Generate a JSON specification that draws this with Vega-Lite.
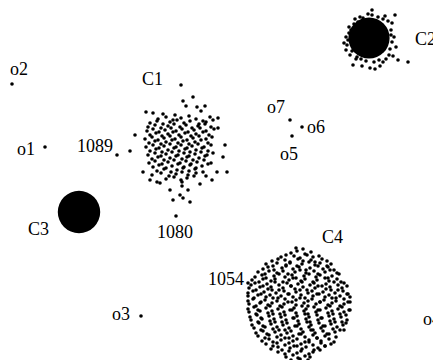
{
"$schema": "https://vega.github.io/schema/vega-lite/v6.json",
"width": 433, "height": 360, "padding": 0, "autosize": "none",
"background": "white",
"config": {"view": {"stroke": null}},
"datasets": {
"cores": [{"cluster":"C2","x":369,"y":38},{"cluster":"C3","x":79,"y":212}],
"labels": [
{"t":"o2","x":10,"y":75},{"t":"C1","x":142,"y":85},{"t":"o1","x":17,"y":155},{"t":"1089","x":77,"y":152},
{"t":"o7","x":267,"y":113},{"t":"o6","x":307,"y":133},{"t":"o5","x":280,"y":160},{"t":"C2","x":415,"y":45},
{"t":"C3","x":28,"y":235},{"t":"1080","x":157,"y":238},{"t":"C4","x":322,"y":243},{"t":"1054","x":208,"y":285},
{"t":"o3","x":112,"y":320},{"t":"o4","x":423,"y":325}],
"points": [
{"x":45,"y":147},{"x":12,"y":84},{"x":141,"y":316},{"x":292,"y":136},{"x":302,"y":127},{"x":290,"y":120},{"x":181,"y":85},{"x":117,"y":155},{"x":130,"y":151},{"x":176,"y":216},{"x":248,"y":283},
{"x":395,"y":15},{"x":372,"y":10},{"x":368,"y":14},{"x":360,"y":17},{"x":346,"y":37},{"x":344,"y":43},{"x":346,"y":50},{"x":350,"y":55},{"x":353,"y":65},{"x":362,"y":66},{"x":370,"y":68},{"x":375,"y":69},{"x":380,"y":66},{"x":393,"y":56},{"x":398,"y":60},{"x":408,"y":62},{"x":392,"y":23},{"x":394,"y":37},{"x":396,"y":47},{"x":355,"y":19},{"x":383,"y":62},{"x":385,"y":16},{"x":378,"y":17},{"x":349,"y":27},{"x":347,"y":45},{"x":356,"y":59},{"x":366,"y":61},{"x":374,"y":62},{"x":389,"y":55},{"x":391,"y":30},{"x":388,"y":21},{"x":354,"y":24},{"x":349,"y":33},{"x":357,"y":57},{"x":386,"y":59},{"x":392,"y":42},{"x":348,"y":40},{"x":352,"y":51},{"x":361,"y":59},{"x":379,"y":60},{"x":390,"y":49},{"x":391,"y":35},{"x":383,"y":19},{"x":363,"y":18},{"x":351,"y":30},{"x":372,"y":15},{"x":358,"y":22},
{"x":193,"y":97},{"x":183,"y":101},{"x":186,"y":106},{"x":197,"y":107},{"x":201,"y":111},{"x":205,"y":106},{"x":146,"y":112},{"x":153,"y":113},{"x":163,"y":114},{"x":175,"y":115},{"x":218,"y":118},{"x":218,"y":128},{"x":135,"y":135},{"x":225,"y":145},{"x":223,"y":157},{"x":227,"y":172},{"x":217,"y":172},{"x":143,"y":172},{"x":150,"y":180},{"x":160,"y":183},{"x":212,"y":180},{"x":200,"y":184},{"x":157,"y":182},{"x":182,"y":182},{"x":182,"y":186},{"x":173,"y":200},{"x":180,"y":195},{"x":183,"y":198},{"x":190,"y":202},{"x":170,"y":190},{"x":188,"y":190},
{"x":158,"y":119},{"x":166,"y":117},{"x":173,"y":120},{"x":181,"y":118},{"x":189,"y":116},{"x":196,"y":119},{"x":203,"y":121},{"x":210,"y":117},
{"x":150,"y":123},{"x":157,"y":121},{"x":163,"y":124},{"x":170,"y":122},{"x":177,"y":120},{"x":184,"y":123},{"x":190,"y":121},{"x":199,"y":124},{"x":206,"y":122},{"x":213,"y":120},
{"x":148,"y":127},{"x":155,"y":125},{"x":161,"y":128},{"x":168,"y":126},{"x":174,"y":124},{"x":180,"y":127},{"x":186,"y":125},{"x":192,"y":128},{"x":198,"y":126},{"x":205,"y":124},{"x":211,"y":127},
{"x":147,"y":131},{"x":153,"y":129},{"x":159,"y":132},{"x":165,"y":130},{"x":171,"y":128},{"x":176,"y":131},{"x":182,"y":129},{"x":188,"y":132},{"x":194,"y":130},{"x":200,"y":128},{"x":206,"y":131},{"x":214,"y":129},
{"x":150,"y":135},{"x":156,"y":133},{"x":162,"y":136},{"x":168,"y":134},{"x":173,"y":132},{"x":179,"y":135},{"x":185,"y":133},{"x":191,"y":136},{"x":196,"y":134},{"x":203,"y":132},{"x":209,"y":135},
{"x":145,"y":139},{"x":152,"y":137},{"x":158,"y":140},{"x":164,"y":138},{"x":170,"y":136},{"x":175,"y":139},{"x":181,"y":137},{"x":187,"y":140},{"x":193,"y":138},{"x":199,"y":136},{"x":206,"y":139},{"x":212,"y":137},
{"x":149,"y":143},{"x":155,"y":141},{"x":161,"y":144},{"x":166,"y":142},{"x":172,"y":140},{"x":178,"y":143},{"x":183,"y":141},{"x":189,"y":144},{"x":195,"y":142},{"x":201,"y":140},{"x":208,"y":143},
{"x":146,"y":147},{"x":153,"y":145},{"x":159,"y":148},{"x":164,"y":146},{"x":170,"y":144},{"x":176,"y":147},{"x":181,"y":145},{"x":187,"y":148},{"x":192,"y":146},{"x":198,"y":144},{"x":204,"y":147},{"x":211,"y":145},
{"x":150,"y":151},{"x":156,"y":149},{"x":162,"y":152},{"x":168,"y":150},{"x":174,"y":148},{"x":179,"y":151},{"x":185,"y":149},{"x":190,"y":152},{"x":196,"y":150},{"x":202,"y":148},{"x":208,"y":151},
{"x":148,"y":155},{"x":155,"y":153},{"x":161,"y":156},{"x":166,"y":154},{"x":172,"y":152},{"x":178,"y":155},{"x":184,"y":153},{"x":189,"y":156},{"x":195,"y":154},{"x":201,"y":152},{"x":207,"y":155},{"x":213,"y":153},
{"x":152,"y":159},{"x":158,"y":157},{"x":164,"y":160},{"x":170,"y":158},{"x":176,"y":156},{"x":182,"y":159},{"x":187,"y":157},{"x":193,"y":160},{"x":199,"y":158},{"x":205,"y":156},
{"x":149,"y":163},{"x":155,"y":161},{"x":162,"y":164},{"x":168,"y":162},{"x":174,"y":160},{"x":180,"y":163},{"x":186,"y":161},{"x":191,"y":164},{"x":197,"y":162},{"x":204,"y":160},{"x":211,"y":163},
{"x":153,"y":167},{"x":159,"y":165},{"x":166,"y":168},{"x":172,"y":166},{"x":178,"y":164},{"x":184,"y":167},{"x":190,"y":165},{"x":196,"y":168},{"x":202,"y":166},{"x":208,"y":164},
{"x":157,"y":171},{"x":164,"y":169},{"x":171,"y":172},{"x":177,"y":170},{"x":183,"y":168},{"x":189,"y":171},{"x":195,"y":169},{"x":203,"y":172},
{"x":152,"y":175},{"x":161,"y":173},{"x":169,"y":176},{"x":176,"y":174},{"x":182,"y":172},{"x":188,"y":175},{"x":196,"y":173},{"x":206,"y":176},
{"x":166,"y":179},{"x":174,"y":177},{"x":181,"y":180},{"x":187,"y":178},{"x":194,"y":176},
{"x":296,"y":248},{"x":303,"y":249},
{"x":291,"y":253},{"x":297,"y":251},{"x":305,"y":254},{"x":311,"y":252},
{"x":281,"y":257},{"x":286,"y":255},{"x":294,"y":256},{"x":300,"y":258},{"x":307,"y":255},{"x":313,"y":257},{"x":319,"y":256},
{"x":272,"y":261},{"x":278,"y":259},{"x":285,"y":260},{"x":290,"y":262},{"x":298,"y":259},{"x":303,"y":261},{"x":311,"y":260},{"x":315,"y":262},{"x":322,"y":259},{"x":327,"y":261},
{"x":266,"y":264},{"x":273,"y":266},{"x":277,"y":263},{"x":286,"y":265},{"x":290,"y":263},{"x":297,"y":266},{"x":302,"y":264},{"x":309,"y":262},{"x":315,"y":265},{"x":320,"y":263},{"x":327,"y":266},{"x":331,"y":264},
{"x":263,"y":269},{"x":268,"y":267},{"x":274,"y":270},{"x":282,"y":268},{"x":286,"y":266},{"x":293,"y":269},{"x":299,"y":267},{"x":306,"y":270},{"x":310,"y":268},{"x":318,"y":266},{"x":323,"y":269},{"x":328,"y":267},{"x":334,"y":270},
{"x":258,"y":272},{"x":265,"y":274},{"x":269,"y":271},{"x":277,"y":273},{"x":283,"y":271},{"x":288,"y":274},{"x":295,"y":272},{"x":300,"y":270},{"x":306,"y":273},{"x":314,"y":271},{"x":318,"y":274},{"x":325,"y":272},{"x":330,"y":270},{"x":337,"y":273},
{"x":255,"y":277},{"x":262,"y":275},{"x":266,"y":278},{"x":274,"y":276},{"x":279,"y":274},{"x":285,"y":277},{"x":292,"y":275},{"x":296,"y":278},{"x":304,"y":276},{"x":309,"y":274},{"x":316,"y":277},{"x":320,"y":275},{"x":328,"y":278},{"x":332,"y":276},{"x":339,"y":274},
{"x":252,"y":280},{"x":259,"y":282},{"x":263,"y":279},{"x":271,"y":281},{"x":275,"y":279},{"x":283,"y":282},{"x":289,"y":280},{"x":293,"y":278},{"x":301,"y":281},{"x":305,"y":279},{"x":313,"y":282},{"x":317,"y":280},{"x":325,"y":278},{"x":329,"y":281},{"x":337,"y":279},{"x":341,"y":282},
{"x":251,"y":285},{"x":255,"y":283},{"x":263,"y":286},{"x":267,"y":284},{"x":275,"y":282},{"x":279,"y":285},{"x":287,"y":283},{"x":291,"y":286},{"x":298,"y":284},{"x":302,"y":282},{"x":310,"y":285},{"x":314,"y":283},{"x":322,"y":286},{"x":326,"y":284},{"x":334,"y":282},{"x":338,"y":285},{"x":344,"y":283},
{"x":249,"y":288},{"x":256,"y":290},{"x":260,"y":287},{"x":268,"y":289},{"x":271,"y":287},{"x":279,"y":290},{"x":283,"y":288},{"x":291,"y":286},{"x":295,"y":289},{"x":303,"y":287},{"x":307,"y":290},{"x":315,"y":288},{"x":318,"y":286},{"x":326,"y":289},{"x":330,"y":287},{"x":338,"y":290},{"x":342,"y":288},{"x":347,"y":286},
{"x":248,"y":293},{"x":253,"y":291},{"x":261,"y":294},{"x":264,"y":292},{"x":272,"y":290},{"x":276,"y":293},{"x":284,"y":291},{"x":288,"y":294},{"x":296,"y":292},{"x":300,"y":290},{"x":308,"y":293},{"x":312,"y":291},{"x":319,"y":294},{"x":323,"y":292},{"x":331,"y":290},{"x":335,"y":293},{"x":343,"y":291},{"x":347,"y":294},
{"x":248,"y":296},{"x":254,"y":298},{"x":258,"y":295},{"x":266,"y":297},{"x":270,"y":295},{"x":278,"y":298},{"x":281,"y":296},{"x":289,"y":294},{"x":293,"y":297},{"x":301,"y":295},{"x":305,"y":298},{"x":313,"y":296},{"x":317,"y":294},{"x":325,"y":297},{"x":329,"y":295},{"x":336,"y":298},{"x":340,"y":296},{"x":348,"y":294},{"x":350,"y":297},
{"x":248,"y":301},{"x":253,"y":299},{"x":261,"y":302},{"x":265,"y":300},{"x":273,"y":298},{"x":277,"y":301},{"x":285,"y":299},{"x":288,"y":302},{"x":296,"y":300},{"x":300,"y":298},{"x":308,"y":301},{"x":312,"y":299},{"x":320,"y":302},{"x":324,"y":300},{"x":332,"y":298},{"x":336,"y":301},{"x":344,"y":299},{"x":348,"y":302},
{"x":249,"y":304},{"x":256,"y":306},{"x":260,"y":303},{"x":268,"y":305},{"x":272,"y":303},{"x":280,"y":306},{"x":284,"y":304},{"x":292,"y":302},{"x":296,"y":305},{"x":304,"y":303},{"x":308,"y":306},{"x":316,"y":304},{"x":320,"y":302},{"x":328,"y":305},{"x":332,"y":303},{"x":340,"y":306},{"x":344,"y":304},{"x":350,"y":302},
{"x":248,"y":309},{"x":254,"y":307},{"x":258,"y":310},{"x":266,"y":308},{"x":270,"y":306},{"x":278,"y":309},{"x":282,"y":307},{"x":290,"y":310},{"x":294,"y":308},{"x":302,"y":306},{"x":306,"y":309},{"x":314,"y":307},{"x":318,"y":310},{"x":326,"y":308},{"x":330,"y":306},{"x":338,"y":309},{"x":342,"y":307},{"x":349,"y":310},
{"x":249,"y":312},{"x":256,"y":314},{"x":260,"y":311},{"x":268,"y":313},{"x":272,"y":311},{"x":280,"y":314},{"x":284,"y":312},{"x":292,"y":310},{"x":296,"y":313},{"x":304,"y":311},{"x":308,"y":314},{"x":316,"y":312},{"x":320,"y":310},{"x":328,"y":313},{"x":332,"y":311},{"x":340,"y":314},{"x":344,"y":312},{"x":350,"y":310},
{"x":250,"y":317},{"x":257,"y":315},{"x":261,"y":318},{"x":269,"y":316},{"x":273,"y":314},{"x":281,"y":317},{"x":285,"y":315},{"x":293,"y":318},{"x":297,"y":316},{"x":305,"y":314},{"x":309,"y":317},{"x":317,"y":315},{"x":321,"y":318},{"x":329,"y":316},{"x":333,"y":314},{"x":341,"y":317},{"x":346,"y":315},
{"x":251,"y":320},{"x":258,"y":322},{"x":262,"y":319},{"x":270,"y":321},{"x":274,"y":319},{"x":282,"y":322},{"x":286,"y":320},{"x":294,"y":318},{"x":298,"y":321},{"x":306,"y":319},{"x":310,"y":322},{"x":318,"y":320},{"x":322,"y":318},{"x":330,"y":321},{"x":334,"y":319},{"x":342,"y":322},{"x":347,"y":320},
{"x":252,"y":325},{"x":259,"y":323},{"x":263,"y":326},{"x":271,"y":324},{"x":275,"y":322},{"x":283,"y":325},{"x":287,"y":323},{"x":295,"y":326},{"x":299,"y":324},{"x":307,"y":322},{"x":311,"y":325},{"x":319,"y":323},{"x":323,"y":326},{"x":331,"y":324},{"x":335,"y":322},{"x":343,"y":325},{"x":346,"y":323},
{"x":254,"y":328},{"x":261,"y":330},{"x":265,"y":327},{"x":273,"y":329},{"x":277,"y":327},{"x":285,"y":330},{"x":289,"y":328},{"x":297,"y":326},{"x":301,"y":329},{"x":309,"y":327},{"x":313,"y":330},{"x":321,"y":328},{"x":325,"y":326},{"x":333,"y":329},{"x":337,"y":327},{"x":344,"y":330},
{"x":256,"y":333},{"x":263,"y":331},{"x":267,"y":334},{"x":275,"y":332},{"x":279,"y":330},{"x":287,"y":333},{"x":291,"y":331},{"x":299,"y":334},{"x":303,"y":332},{"x":311,"y":330},{"x":315,"y":333},{"x":323,"y":331},{"x":327,"y":334},{"x":335,"y":332},{"x":340,"y":330},
{"x":258,"y":336},{"x":265,"y":338},{"x":269,"y":335},{"x":277,"y":337},{"x":281,"y":335},{"x":289,"y":338},{"x":293,"y":336},{"x":301,"y":334},{"x":305,"y":337},{"x":313,"y":335},{"x":317,"y":338},{"x":325,"y":336},{"x":329,"y":334},{"x":336,"y":337},
{"x":262,"y":341},{"x":269,"y":339},{"x":273,"y":342},{"x":281,"y":340},{"x":285,"y":338},{"x":293,"y":341},{"x":297,"y":339},{"x":305,"y":342},{"x":309,"y":340},{"x":317,"y":338},{"x":321,"y":341},{"x":329,"y":339},{"x":334,"y":342},
{"x":266,"y":344},{"x":273,"y":346},{"x":277,"y":343},{"x":285,"y":345},{"x":289,"y":343},{"x":297,"y":346},{"x":301,"y":344},{"x":309,"y":342},{"x":313,"y":345},{"x":321,"y":343},{"x":325,"y":346},{"x":331,"y":344},
{"x":271,"y":349},{"x":278,"y":347},{"x":282,"y":350},{"x":290,"y":348},{"x":294,"y":346},{"x":302,"y":349},{"x":306,"y":347},{"x":314,"y":350},{"x":318,"y":348},{"x":325,"y":346},
{"x":278,"y":352},{"x":285,"y":354},{"x":289,"y":351},{"x":297,"y":353},{"x":301,"y":351},{"x":309,"y":354},{"x":313,"y":352},{"x":320,"y":350},
{"x":286,"y":357},{"x":293,"y":355},{"x":298,"y":358},{"x":305,"y":356},{"x":310,"y":357},
{"x":291,"y":360},{"x":300,"y":359},{"x":308,"y":360}
]
},
"layer": [
{"data": {"name": "cores"}, "transform": [{"filter": "datum.cluster === 'C2'"}], "mark": {"type": "circle", "size": 1700, "opacity": 1, "color": "black"},
 "encoding": {
  "x": {"field": "x", "type": "quantitative", "scale": {"domain": [0, 433], "nice": false, "zero": false}, "axis": null},
  "y": {"field": "y", "type": "quantitative", "scale": {"domain": [0, 360], "nice": false, "zero": false, "reverse": true}, "axis": null}
 }},
{"data": {"name": "cores"}, "transform": [{"filter": "datum.cluster === 'C3'"}], "mark": {"type": "circle", "size": 1800, "opacity": 1, "color": "black"},
 "encoding": {
  "x": {"field": "x", "type": "quantitative", "scale": {"domain": [0, 433], "nice": false, "zero": false}, "axis": null},
  "y": {"field": "y", "type": "quantitative", "scale": {"domain": [0, 360], "nice": false, "zero": false, "reverse": true}, "axis": null}
 }},
{"data": {"name": "points"}, "mark": {"type": "circle", "size": 13, "opacity": 1, "color": "black"},
 "encoding": {
  "x": {"field": "x", "type": "quantitative", "scale": {"domain": [0, 433], "nice": false, "zero": false}, "axis": null},
  "y": {"field": "y", "type": "quantitative", "scale": {"domain": [0, 360], "nice": false, "zero": false, "reverse": true}, "axis": null}
 }},
{"data": {"name": "labels"}, "mark": {"type": "text", "align": "left", "baseline": "alphabetic", "font": "Liberation Serif", "fontSize": 18, "color": "black"},
 "encoding": {
  "x": {"field": "x", "type": "quantitative", "scale": {"domain": [0, 433], "nice": false, "zero": false}, "axis": null},
  "y": {"field": "y", "type": "quantitative", "scale": {"domain": [0, 360], "nice": false, "zero": false, "reverse": true}, "axis": null},
  "text": {"field": "t", "type": "nominal"}
 }}
]
}
